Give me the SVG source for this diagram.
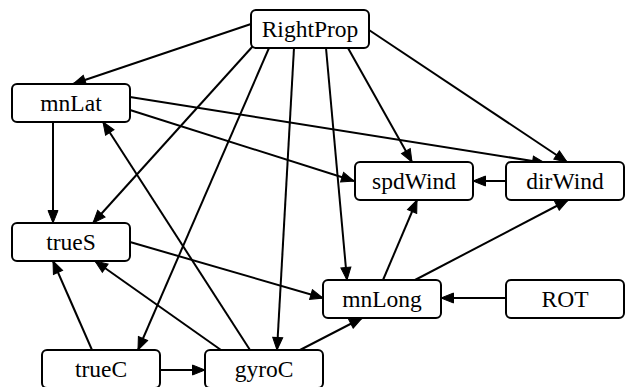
<svg xmlns="http://www.w3.org/2000/svg" width="627" height="387" viewBox="0 0 627 387">
<style>
.n rect{fill:#fff;stroke:#000;stroke-width:2}
.n text{font-family:"Liberation Serif",serif;font-size:23.5px;text-anchor:middle;fill:#000}
#edges line{stroke:#000;stroke-width:2;marker-end:url(#ah)}
</style>
<defs>
<marker id="ah" markerUnits="userSpaceOnUse" markerWidth="14" markerHeight="12" refX="12.5" refY="5" orient="auto" viewBox="-1 -1 14 12">
<path d="M0,0 L12.5,5 L0,10 z" fill="#000" stroke="#000" stroke-width="1"/>
</marker>
</defs>
<rect width="627" height="387" fill="#fff"/>
<g id="edges">
<line x1="251" y1="24" x2="73" y2="84"/>
<line x1="253" y1="46" x2="93" y2="223"/>
<line x1="269" y1="48" x2="138" y2="350"/>
<line x1="294" y1="48" x2="277" y2="350"/>
<line x1="326" y1="48" x2="347" y2="280"/>
<line x1="348" y1="48" x2="412" y2="162"/>
<line x1="369" y1="30" x2="567" y2="162"/>
<line x1="130" y1="97" x2="545" y2="163"/>
<line x1="130" y1="110" x2="354" y2="181"/>
<line x1="53" y1="122" x2="53" y2="223"/>
<line x1="130" y1="242" x2="323" y2="298"/>
<line x1="250" y1="350" x2="103" y2="122"/>
<line x1="221" y1="350" x2="95" y2="261"/>
<line x1="92" y1="350" x2="53" y2="261"/>
<line x1="160" y1="370" x2="205" y2="370"/>
<line x1="300" y1="350" x2="362" y2="318"/>
<line x1="383" y1="280" x2="417" y2="200"/>
<line x1="415" y1="280" x2="568" y2="200"/>
<line x1="506" y1="298" x2="441" y2="298"/>
<line x1="506" y1="181" x2="473" y2="181"/>
</g>
<g id="RightProp" class="n"><rect x="251" y="10" width="118" height="38" rx="5"/><text x="310" y="37">RightProp</text></g>
<g id="mnLat" class="n"><rect x="12" y="84" width="118" height="38" rx="5"/><text x="71" y="111">mnLat</text></g>
<g id="spdWind" class="n"><rect x="355" y="162" width="118" height="38" rx="5"/><text x="414" y="189">spdWind</text></g>
<g id="dirWind" class="n"><rect x="506" y="162" width="118" height="38" rx="5"/><text x="565" y="189">dirWind</text></g>
<g id="trueS" class="n"><rect x="12" y="223" width="118" height="38" rx="5"/><text x="71" y="250">trueS</text></g>
<g id="mnLong" class="n"><rect x="323" y="280" width="118" height="38" rx="5"/><text x="382" y="307">mnLong</text></g>
<g id="ROT" class="n"><rect x="506" y="280" width="118" height="38" rx="5"/><text x="565" y="307">ROT</text></g>
<g id="trueC" class="n"><rect x="42" y="350" width="118" height="38" rx="5"/><text x="101" y="377">trueC</text></g>
<g id="gyroC" class="n"><rect x="205" y="350" width="118" height="38" rx="5"/><text x="264" y="377">gyroC</text></g>
</svg>
